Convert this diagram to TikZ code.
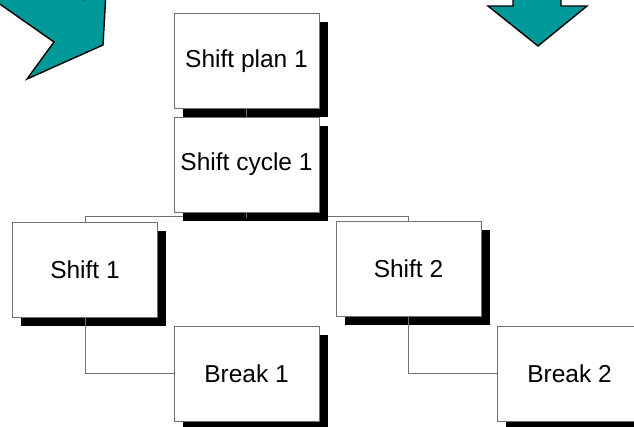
\documentclass[tikz,border=0pt]{standalone}
\usepackage{fontspec}
\setmainfont{Liberation Sans}
\usetikzlibrary{shadows,backgrounds}
\definecolor{tealfill}{HTML}{009999}
\definecolor{edgegray}{HTML}{707070}
\tikzset{
  orgbox/.style={draw=edgegray, line width=1pt, fill=white, rectangle,
    minimum width=145pt, minimum height=95pt, inner sep=0pt,
    font=\fontsize{24.5}{28}\selectfont,
    drop shadow={shadow xshift=8.5pt, shadow yshift=-8.5pt, fill=black, opacity=1}},
  link/.style={draw=edgegray, line width=1pt},
  blockarrow/.style={fill=tealfill, draw=black, line width=1.4pt, line join=miter}
}
\begin{document}
\begin{tikzpicture}[x=1pt,y=-1pt]
  \useasboundingbox (0,0) rectangle (634,426);
  \clip (0,0) rectangle (634,426);

  % teal block arrows at the top
  \draw[blockarrow] (-8,-1.5) -- (54,42) -- (27,79) -- (103,45) -- (106,-8)
    -- (83,-0.3) -- (70,-8) -- cycle;
  \draw[blockarrow] (513,-8) -- (513,6) -- (488,6) -- (538,46) -- (587,6)
    -- (561,6) -- (561,-8) -- cycle;

  % boxes
  \node[orgbox] (plan)  at (246.5,61)   {Shift plan 1};
  \node[orgbox] (cyc)   at (246.5,164.5){Shift cycle 1};
  \node[orgbox] (s1)    at (85,269.5)   {Shift 1};
  \node[orgbox] (s2)    at (408.5,269)  {Shift 2};
  \node[orgbox] (b1)    at (246.5,373.5){Break 1};
  \node[orgbox] (b2)    at (569.5,373.5){Break 2};

  % white page and the bus line below the cycle box, behind the boxes
  \begin{pgfonlayer}{background}
    \fill[white] (0,0) rectangle (634,426);
    \draw[link] (s1.north) -- ++(0,-5) -| (s2.north);
  \end{pgfonlayer}

  % stubs and elbow links on top
  \draw[link] (plan.south) -- (cyc.north);
  \draw[link] (cyc.south) -- ++(0,5);
  \draw[link] (s1.south) |- (b1.west);
  \draw[link] (s2.south) |- (b2.west);
\end{tikzpicture}
\end{document}
